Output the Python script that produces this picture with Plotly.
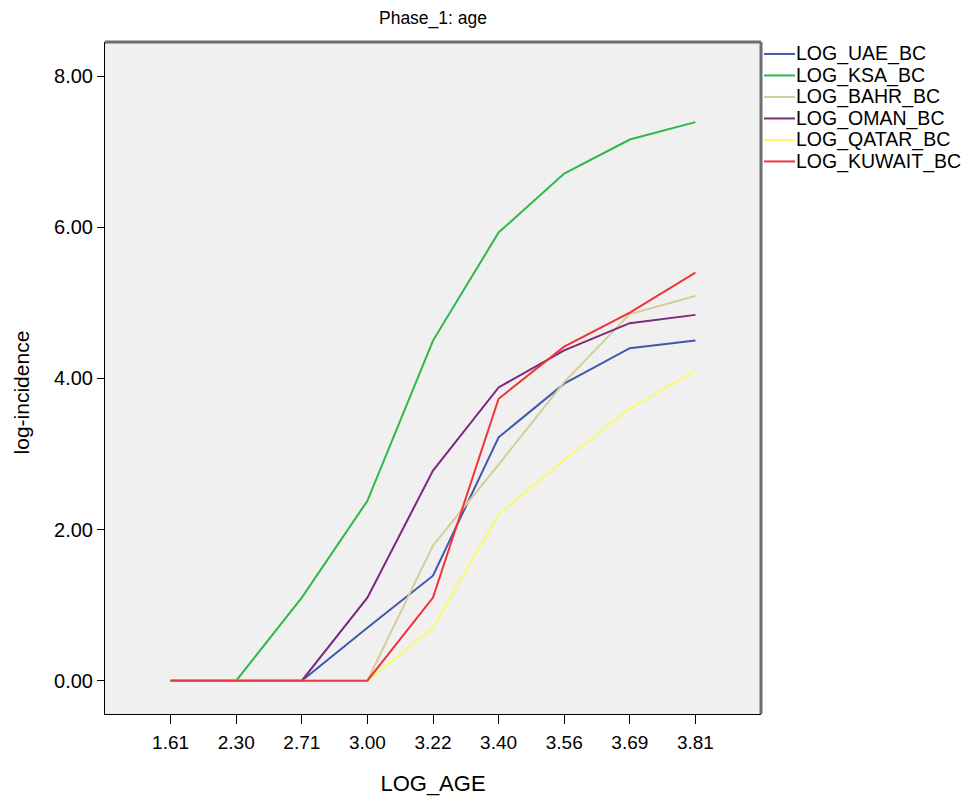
import plotly.graph_objects as go

log_age = ["1.61", "2.30", "2.71", "3.00", "3.22", "3.40", "3.56", "3.69", "3.81"]
uae = [0, 0, 0, 0.70, 1.39, 3.22, 3.93, 4.40, 4.50]
ksa = [0, 0, 1.10, 2.38, 4.50, 5.93, 6.71, 7.16, 7.39]
bahr = [0, 0, 0, 0, 1.79, 2.86, 3.95, 4.85, 5.09]
oman = [0, 0, 0, 1.10, 2.78, 3.88, 4.37, 4.73, 4.84]
qatar = [0, 0, 0, 0, 0.70, 2.20, 2.92, 3.60, 4.10]
kuwait = [0, 0, 0, 0, 1.10, 3.73, 4.42, 4.87, 5.40]

series = [
    ("LOG_UAE_BC", uae, "#3E58AC"),
    ("LOG_KSA_BC", ksa, "#2EB848"),
    ("LOG_BAHR_BC", bahr, "#D3CE97"),
    ("LOG_OMAN_BC", oman, "#7C287D"),
    ("LOG_QATAR_BC", qatar, "#FBF873"),
    ("LOG_KUWAIT_BC", kuwait, "#EF3338"),
]

font = "Liberation Sans, Arial, sans-serif"

W, H = 965, 795
ML, MR, MT, MB = 97, 212, 34, 86
PW, PH = W - ML - MR, H - MT - MB

fig = go.Figure()
for name, vals, col in series:
    fig.add_trace(go.Scatter(x=list(range(len(log_age))), y=vals, mode="lines", name=name,
                             line=dict(color=col, width=2), showlegend=False))

# legend drawn as line samples + text (SPSS style compact legend)
row_h = 21.6
first_row = 12  # px below plot top
for i, (name, vals, col) in enumerate(series):
    yp = 1 - (first_row + i * row_h) / PH
    fig.add_shape(type="line", xref="paper", yref="paper",
                  x0=1 + 3 / PW, x1=1 + 34 / PW, y0=yp, y1=yp,
                  line=dict(color=col, width=2))
    fig.add_annotation(xref="paper", yref="paper", x=1 + 33 / PW, y=yp,
                       xanchor="left", yanchor="middle", text=name, showarrow=False,
                       font=dict(family=font, size=19.5, color="black"))

# y-axis title (SPSS places it slightly below the plot centre)
fig.add_annotation(xref="paper", yref="paper", x=-84 / PW, y=1 - (394 - 8 - MT) / PH,
                   xanchor="center", yanchor="middle", textangle=-90,
                   text="log-incidence", showarrow=False,
                   font=dict(family=font, size=21, color="black"))

fig.update_layout(
    width=W, height=H,
    margin=dict(l=ML, r=MR, t=MT, b=MB),
    paper_bgcolor="white", plot_bgcolor="#F0F0F0",
    title=dict(text="Phase_1: age", x=(ML + PW / 2) / W, xanchor="center",
               y=1 - 10 / H, yanchor="middle",
               font=dict(family=font, size=17.5, color="black")),
    showlegend=False,
)
fig.update_xaxes(
    tickmode="array", tickvals=list(range(len(log_age))), ticktext=log_age,
    range=[-1, 9], showgrid=False, zeroline=False,
    showline=True, linecolor="black", linewidth=1,
    ticks="outside", ticklen=9, tickcolor="black", ticklabelstandoff=2,
    tickfont=dict(family=font, size=19, color="black"),
    title=dict(text="LOG_AGE", font=dict(family=font, size=22, color="black"), standoff=23),
)
fig.update_yaxes(
    tickmode="array", tickvals=[0, 2, 4, 6, 8], ticktext=["0.00", "2.00", "4.00", "6.00", "8.00"],
    range=[-0.44, 8.45], showgrid=False, zeroline=False,
    showline=True, linecolor="black", linewidth=1,
    ticks="outside", ticklen=7, tickcolor="black",
    tickfont=dict(family=font, size=20, color="black"),
)
fig.add_shape(type="line", xref="paper", yref="paper", x0=0, x1=1, y0=1, y1=1,
              line=dict(color="#6E6E6E", width=3))
fig.add_shape(type="line", xref="paper", yref="paper", x0=1, x1=1, y0=0, y1=1,
              line=dict(color="#6E6E6E", width=3))

fig.write_html("out.html")
